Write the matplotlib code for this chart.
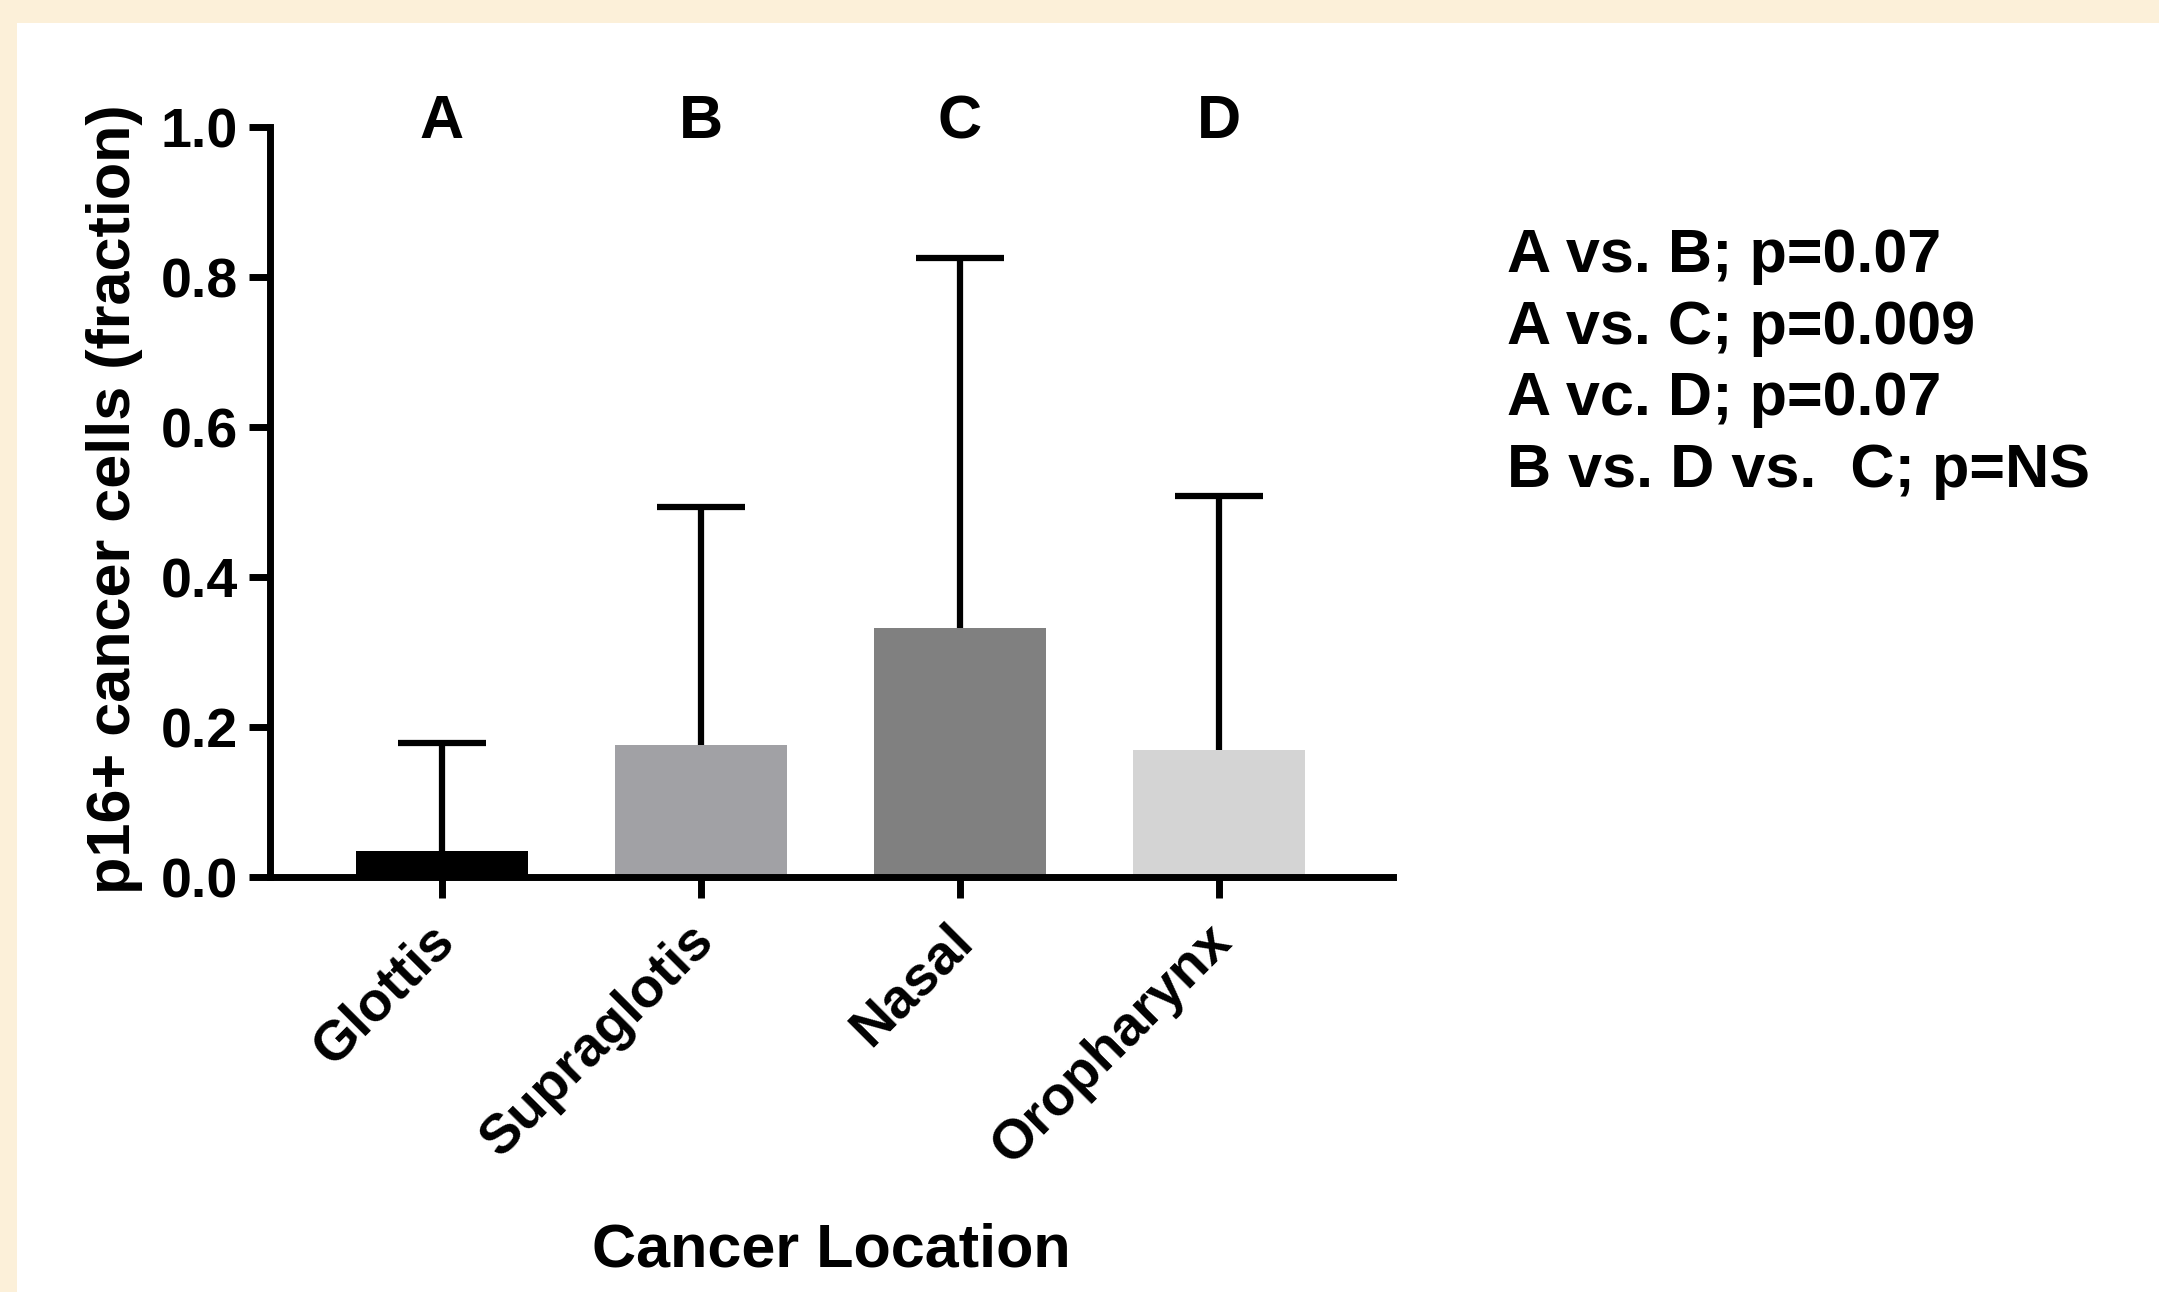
import matplotlib.pyplot as plt
from matplotlib.patches import Rectangle
from matplotlib.transforms import ScaledTranslation

# --- data ---
locations = ["Glottis", "Supraglotis", "Nasal", "Oropharynx"]
group_letters = ["A", "B", "C", "D"]
means = [0.035, 0.176, 0.332, 0.170]
upper_err = [0.144, 0.318, 0.494, 0.338]
bar_colors = ["#000000", "#A1A1A5", "#808080", "#D4D4D4"]
yticks = [0.0, 0.2, 0.4, 0.6, 0.8, 1.0]
pvalue_lines = [
    "A vs. B; p=0.07",
    "A vs. C; p=0.009",
    "A vc. D; p=0.07",
    "B vs. D vs.  C; p=NS",
]

plt.rcParams["font.family"] = ["Liberation Sans", "DejaVu Sans"]
plt.rcParams["font.weight"] = "bold"

W, H = 2159, 1292
fig = plt.figure(figsize=(W / 100, H / 100), dpi=100, facecolor="#FCF0D9")
# white panel inside the beige frame (frame only on top and left)
fig.patches.append(Rectangle((17 / W, 0), 1, 1 - 23 / H, transform=fig.transFigure,
                             facecolor="white", edgecolor="none", zorder=-5))

ax = fig.add_axes([270 / W, 1 - 877 / H, (1393 - 270) / W, 750 / H])
ax.set_facecolor("none")

x = list(range(len(locations)))
ax.bar(x, means, width=0.664, color=bar_colors, zorder=2)
eb = ax.errorbar(x, means, yerr=[[0] * len(means), upper_err], fmt="none",
                 ecolor="black", elinewidth=4.5, capsize=32, capthick=4.5, zorder=3)
# one-sided bars: hide the lower caps
eb[1][0].set_visible(False)

for xi, letter in zip(x, group_letters):
    ax.text(xi, 0.985, letter, ha="center", va="baseline", fontsize=44,
            fontweight="bold", clip_on=False)

ax.set_xlim(-0.664, 3.672)
ax.set_ylim(0, 1.0)
ax.set_yticks(yticks)
ax.set_yticklabels([f"{v:.1f}" for v in yticks])
ax.set_xticks(x)

for side in ["top", "right"]:
    ax.spines[side].set_visible(False)
for side in ["left", "bottom"]:
    ax.spines[side].set_linewidth(5)
ax.tick_params(axis="both", width=5, length=15, labelsize=40, pad=8)

ax.set_xticklabels(locations, rotation=45, ha="right", rotation_mode="anchor")
shift = ScaledTranslation(-10 / 72, -4 / 72, fig.dpi_scale_trans)
for lbl in ax.get_xticklabels():
    lbl.set_transform(lbl.get_transform() + shift)

ax.set_ylabel("p16+ cancer cells (fraction)", fontsize=44, fontweight="bold")
ax.yaxis.set_label_coords(-0.113, 0.504)
ax.set_xlabel("Cancer Location", fontsize=44, fontweight="bold")
ax.xaxis.set_label_coords(0.5, -0.461)

for i, line in enumerate(pvalue_lines):
    fig.text(1507 / W, 1 - (272 + 71.7 * i) / H, line, fontsize=44,
             fontweight="bold", va="baseline", ha="left")

plt.savefig("out.png", dpi=100, facecolor=fig.get_facecolor())
